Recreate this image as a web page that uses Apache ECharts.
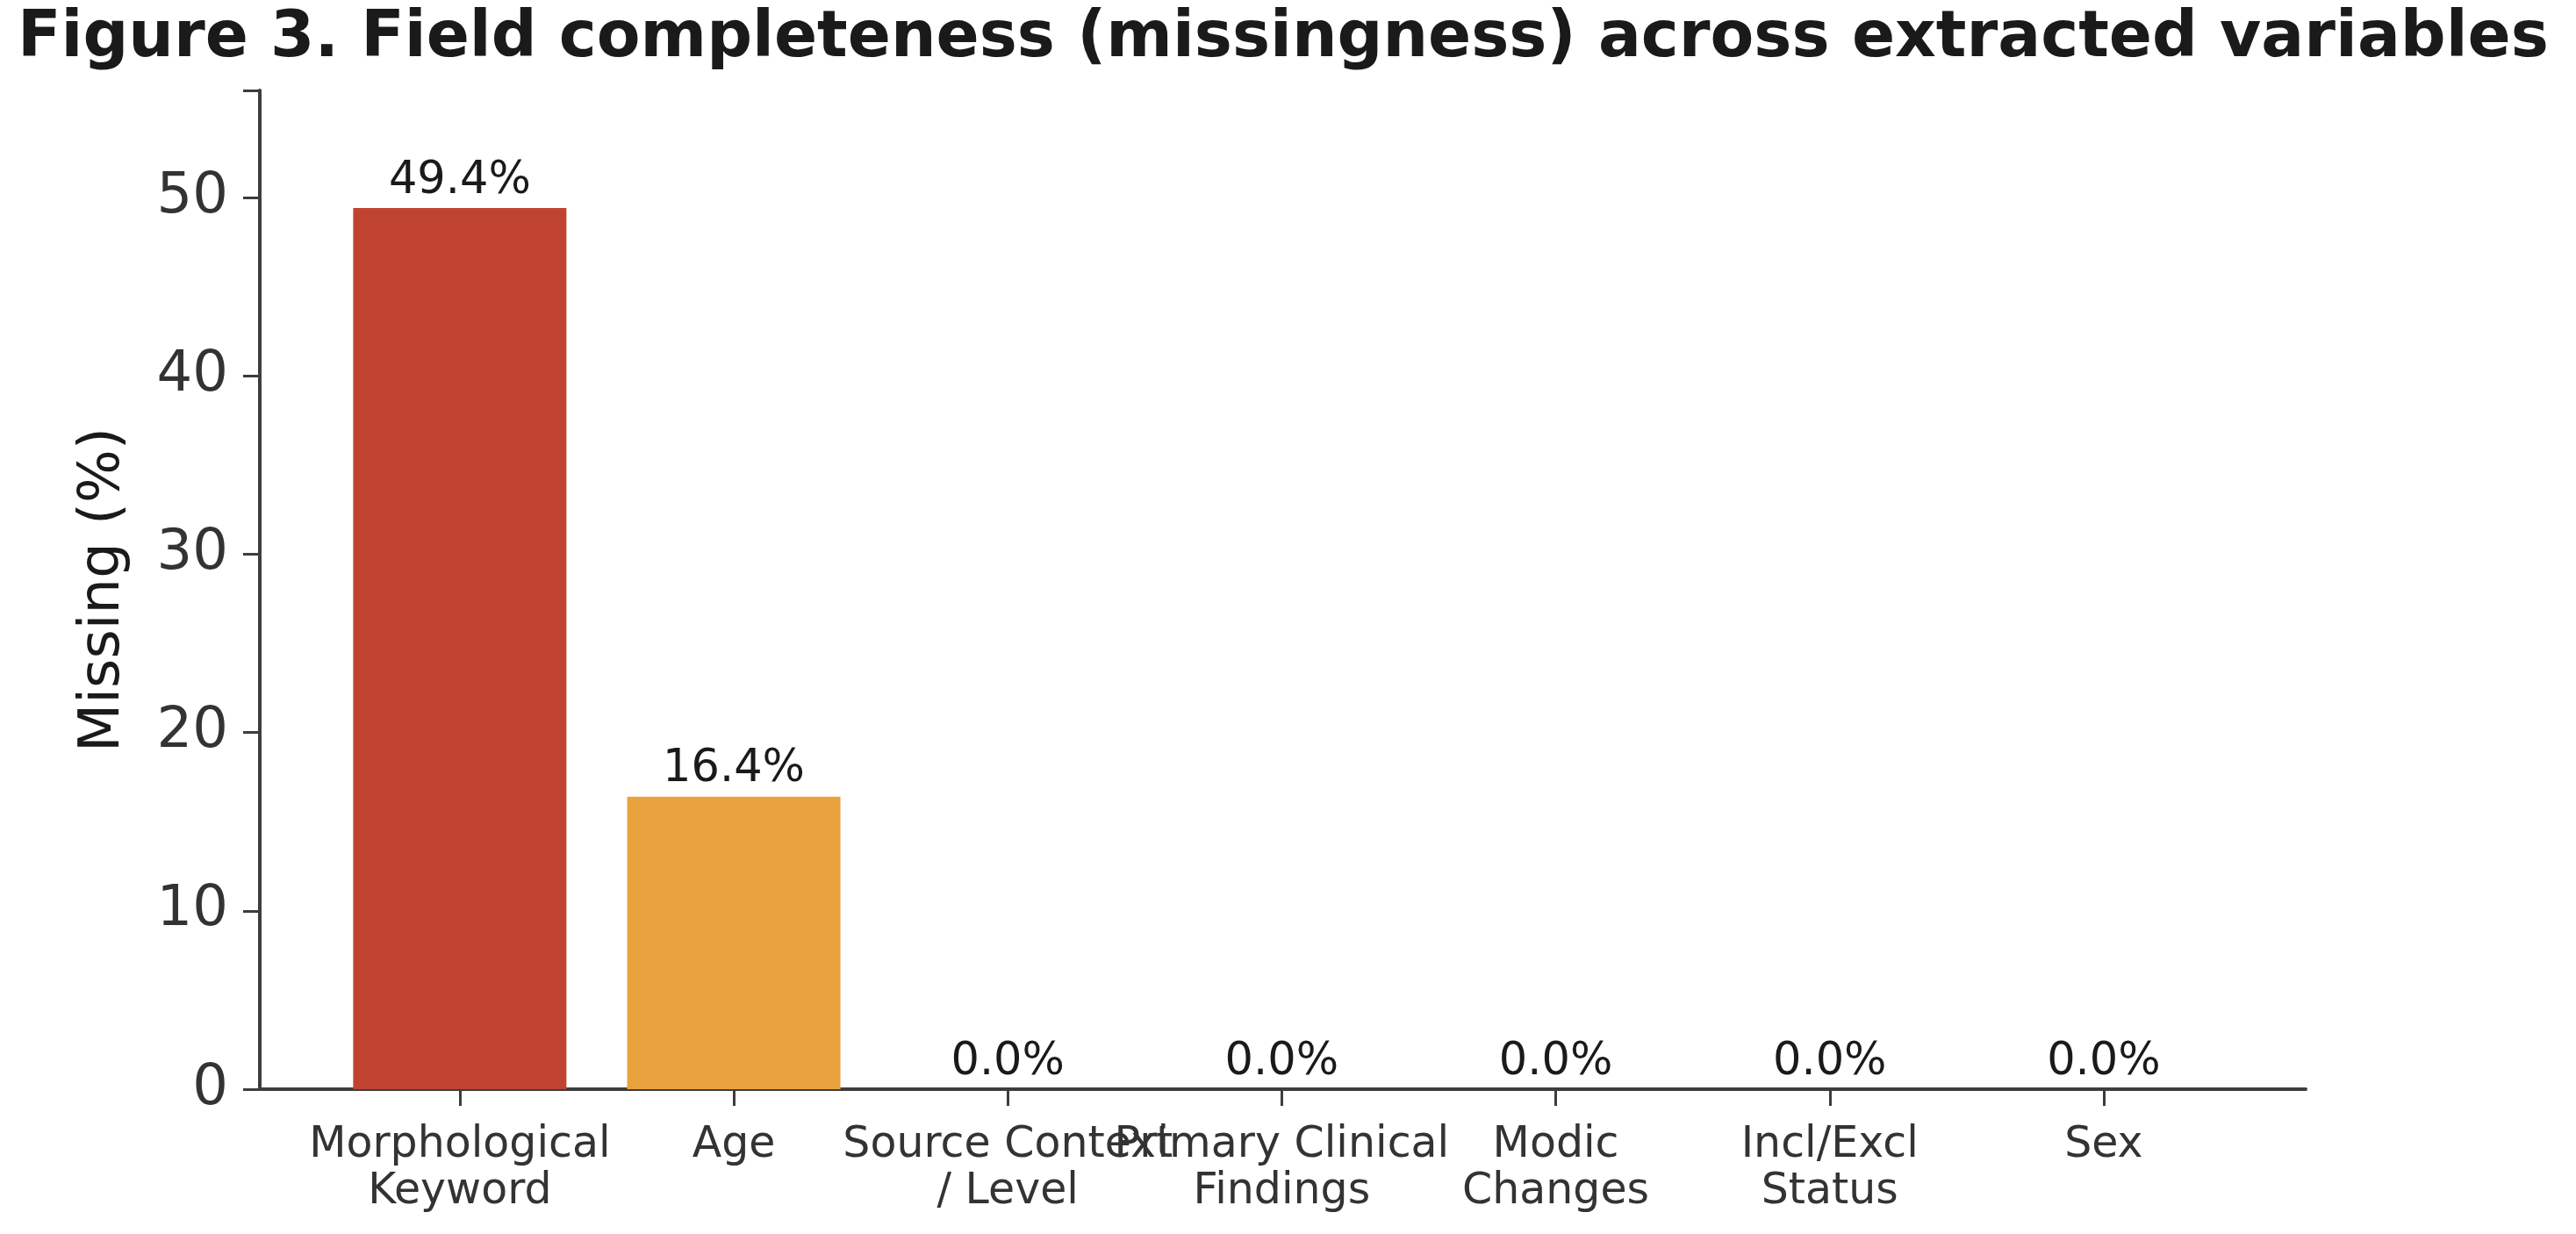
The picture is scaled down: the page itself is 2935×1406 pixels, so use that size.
<!DOCTYPE html>
<html>
<head>
<meta charset="utf-8">
<script src="https://cdn.jsdelivr.net/npm/echarts@6/dist/echarts.min.js"></script>
<style>
html,body{margin:0;padding:0;background:#fff;}
#chart{width:2935px;height:1406px;}
</style>
</head>
<body>
<div id="chart"></div>
<script>
const categories = ["Morphological\nKeyword", "Age", "Source Context\n/ Level", "Primary Clinical\nFindings", "Modic\nChanges", "Incl/Excl\nStatus", "Sex"];
const missingPct = [49.4, 16.4, 0.0, 0.0, 0.0, 0.0, 0.0];
const barColors = ["#BF4330", "#E8A23D", "#BF4330", "#BF4330", "#BF4330", "#BF4330", "#BF4330"];
const yTicks = [0, 10, 20, 30, 40, 50];
const titleText = "Figure 3. Field completeness (missingness) across extracted variables";
const yLabel = "Missing (%)";

const chart = echarts.init(document.getElementById('chart'), null, {renderer: 'canvas'});
const font = "DejaVu Sans";
const idx = categories.map((c, i) => i);
const option = {
  backgroundColor: '#ffffff',
  animation: false,
  title: {
    text: titleText,
    left: 15,
    top: 4,
    textStyle: {fontFamily: font, fontWeight: 'bold', fontSize: 72.5, color: '#1a1a1a'}
  },
  grid: {left: 296, right: 308, top: 103, bottom: 165, containLabel: false},
  xAxis: {
    type: 'value',
    min: -0.73,
    max: 6.737,
    splitLine: {show: false},
    axisLine: {show: true, onZero: false, lineStyle: {color: '#3d3d3d', width: 4}},
    axisTick: {show: true, customValues: idx, length: 19, lineStyle: {color: '#3d3d3d', width: 3}},
    axisLabel: {
      customValues: idx,
      formatter: v => categories[Math.round(v)],
      fontFamily: font, fontSize: 49, color: '#333333', lineHeight: 53, margin: 38,
      align: 'center'
    }
  },
  yAxis: {
    type: 'value',
    min: 0,
    max: 56,
    interval: 10,
    splitLine: {show: false},
    axisLine: {show: true, onZero: false, lineStyle: {color: '#3d3d3d', width: 4}},
    axisTick: {show: true, length: 19, lineStyle: {color: '#3d3d3d', width: 3}},
    axisLabel: {
      fontFamily: font, fontSize: 64, color: '#333333', margin: 36,
      formatter: v => (yTicks.includes(v) ? String(v) : '')
    },
    name: yLabel,
    nameLocation: 'middle',
    nameGap: 146,
    nameTextStyle: {fontFamily: font, fontSize: 64, color: '#1a1a1a'}
  },
  series: [{
    type: 'bar',
    data: missingPct.map((v, i) => [i, v]),
    barWidth: 243,
    itemStyle: {color: p => barColors[p.dataIndex]},
    label: {
      show: true,
      position: 'top',
      distance: 5,
      formatter: p => p.value[1].toFixed(1) + '%',
      fontFamily: font, fontSize: 51, color: '#1a1a1a'
    }
  }]
};
chart.setOption(option);
</script>
</body>
</html>
